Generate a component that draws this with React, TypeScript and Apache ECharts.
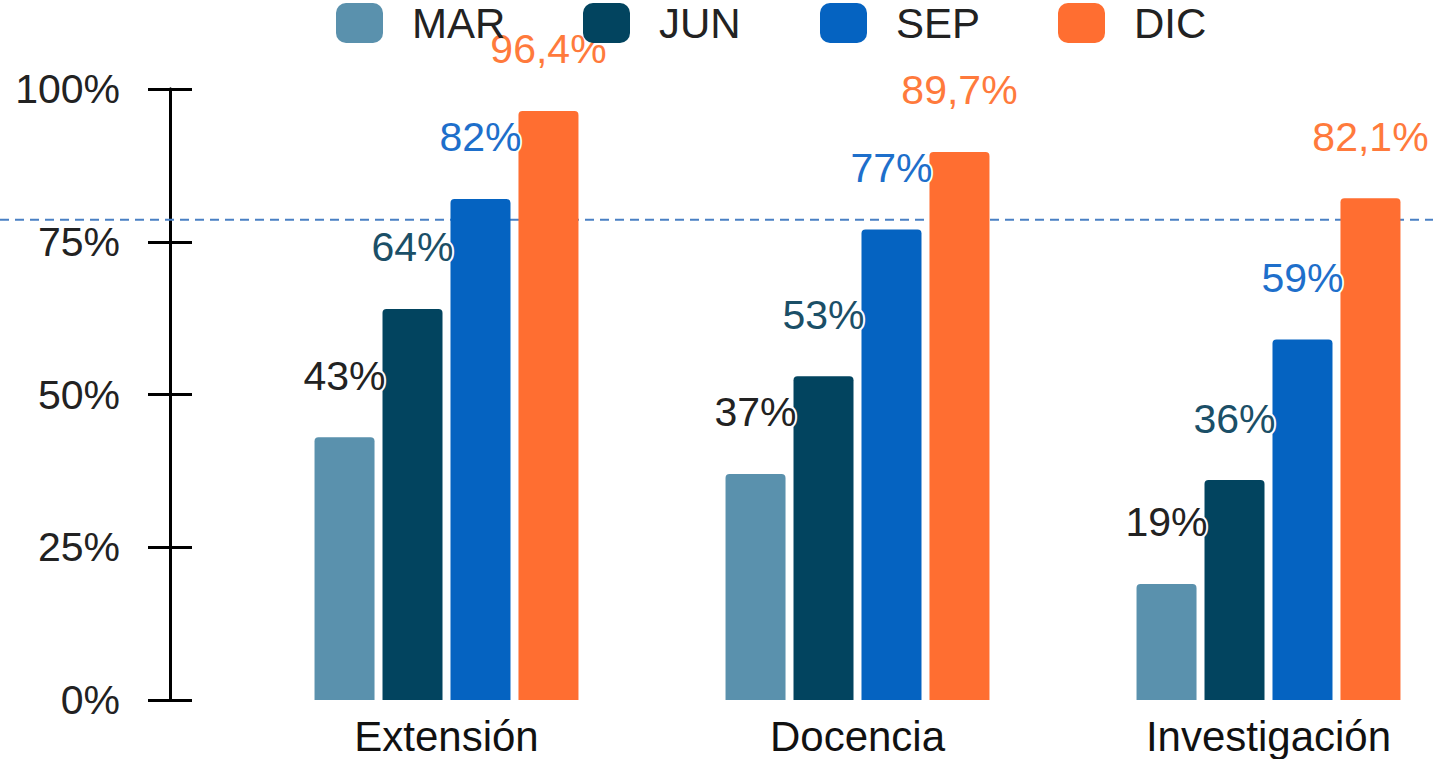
import React, { useEffect, useRef } from "react";
import * as echarts from "echarts";

const categories = ["Extensión", "Docencia", "Investigación"];
const seriesNames = ["MAR", "JUN", "SEP", "DIC"];
const marValues = [43, 37, 19];
const junValues = [64, 53, 36];
const sepValues = [82, 77, 59];
const dicValues = [96.4, 89.7, 82.1];
const yTicks = [0, 25, 50, 75, 100];
const referenceValue = 78.6;

const barColors = ["#5a91ad", "#02445f", "#0563c1", "#ff6e31"];
const labelColors = ["#222222", "#1b4f67", "#1e6fcb", "#ff7a3c"];
const legendLefts = [331, 578, 815, 1053];

const FONT = "'Liberation Sans', Arial, sans-serif";

export default function App() {
  const ref = useRef<HTMLDivElement>(null);

  useEffect(() => {
    if (!ref.current) return;
    const chart = echarts.init(ref.current, null, { renderer: "svg" });
    const values = [marValues, junValues, sepValues, dicValues];
    const fmt = (v: number) => String(v).replace(".", ",") + "%";

    const yAxisBase = {
      type: "value" as const,
      min: yTicks[0],
      max: yTicks[yTicks.length - 1],
      interval: 25,
      position: "left" as const,
      offset: 71,
      splitLine: { show: false },
      axisLine: { show: true, lineStyle: { color: "#000", width: 3 } },
    };

    chart.setOption({
      animation: false,
      backgroundColor: "#ffffff",
      textStyle: { fontFamily: FONT },
      grid: { left: 241, top: 89, width: 1233, height: 611, containLabel: false },
      legend: seriesNames.map((n, i) => ({
        data: [n],
        left: legendLefts[i],
        top: -3,
        itemWidth: 47,
        itemHeight: 40,
        icon: "roundRect",
        selectedMode: false,
        textStyle: { fontSize: 42, color: "#222", fontFamily: FONT, padding: [0, 0, 14, 24] },
      })),
      xAxis: {
        type: "category",
        data: categories,
        axisLine: { show: false },
        axisTick: { show: false },
        axisLabel: { fontSize: 42, color: "#111", margin: 15, fontFamily: FONT },
      },
      yAxis: [
        {
          ...yAxisBase,
          axisTick: { show: true, length: 22, lineStyle: { color: "#000", width: 3 } },
          axisLabel: {
            fontSize: 41,
            color: "#222",
            margin: 50,
            fontFamily: FONT,
            formatter: "{value}%",
          },
        },
        {
          ...yAxisBase,
          axisTick: { show: true, inside: true, length: 22, lineStyle: { color: "#000", width: 3 } },
          axisLabel: { show: false },
        },
      ],
      series: seriesNames.map((n, i) => ({
        name: n,
        type: "bar",
        data: values[i],
        barWidth: 60,
        barGap: "13.3%",
        itemStyle: { color: barColors[i], borderRadius: [4, 4, 0, 0] },
        label: {
          show: true,
          position: "top",
          distance: 41,
          fontSize: 41,
          fontFamily: FONT,
          color: labelColors[i],
          textBorderColor: "#ffffff",
          textBorderWidth: 4,
          formatter: (p: any) => fmt(p.value),
        },
      })),
    });

    const y = chart.convertToPixel({ yAxisIndex: 0 }, referenceValue) as number;
    chart.setOption({
      graphic: [
        {
          type: "line",
          shape: { x1: 0, y1: y, x2: 1433, y2: y },
          style: { stroke: "#4a80c4", lineWidth: 2, lineDash: [9, 6] },
          z: 1,
        },
      ],
    });

    return () => chart.dispose();
  }, []);

  return (
    <div
      style={{
        position: "fixed",
        left: 0,
        top: 0,
        width: 1433,
        height: 759,
        overflow: "hidden",
        background: "#fff",
      }}
    >
      <div ref={ref} style={{ width: 1500, height: 759 }} />
    </div>
  );
}
